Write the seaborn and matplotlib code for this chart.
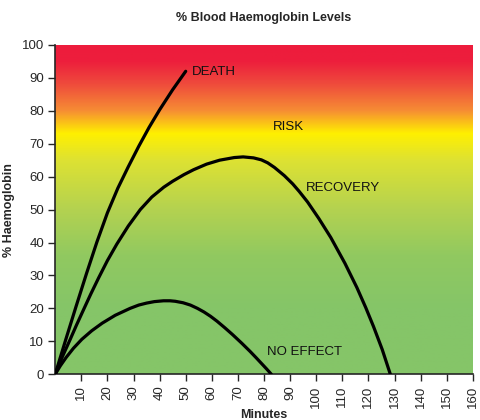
import numpy as np
import pandas as pd
import matplotlib
matplotlib.use("Agg")
import matplotlib.pyplot as plt
import seaborn as sns
from matplotlib.colors import LinearSegmentedColormap

# curves
death_x = [0, 4, 8, 12, 16, 20, 24, 28, 32, 36, 40, 45, 50]
death_y = [0, 10.4, 20.6, 30.6, 40.2, 49, 56.5, 63, 69.2, 75, 80.3, 86.4, 92]

recovery_x = [0, 2.8, 5.7, 8.2, 10.8, 13.6, 16.6, 20, 23.6, 28, 32.6, 37, 41.6,
              45, 49.3, 53, 58, 63, 68.6, 72, 76, 79, 81.4, 84, 87.8, 91, 93.5,
              96.7, 101, 105.6, 111, 115.6, 119, 122, 125.3, 128.4]
recovery_y = [0, 5.4, 10.5, 15, 19.5, 24.3, 29.2, 34.5, 39.5, 45, 50, 53.8, 56.8,
              58.6, 60.6, 62.1, 63.8, 65, 65.8, 66, 65.7, 65.1, 64.2, 62.8, 60.3, 57.8, 55.5,
              52.3, 47.3, 41.5, 33.7, 26.3, 20.2, 14.4, 7.5, 0]

noeffect_x = [0, 2, 4.2, 7, 10.2, 14, 18, 23, 28.7, 32, 35, 38, 41.5, 44, 46,
              49, 51.8, 54.5, 57, 59.5, 62, 65, 68, 71.5, 74.7, 77, 79, 81, 82.8]
noeffect_y = [0, 2.6, 5.1, 7.9, 10.6, 13.2, 15.5, 17.9, 20, 21, 21.6, 22.05, 22.3, 22.3, 22.15,
              21.7, 21, 20, 18.9, 17.6, 16.1, 14.1, 12, 9.4, 6.9, 5, 3.3, 1.6, 0]

labels = ["DEATH", "RISK", "RECOVERY", "NO EFFECT"]
label_x = [52.5, 83.5, 96, 81]
label_y = [91.8, 75, 56.5, 6.7]

xticks = list(range(10, 161, 10))
yticks = list(range(0, 101, 10))

sns.set_style("ticks")
plt.rcParams['font.family'] = ['Liberation Sans Narrow', 'Liberation Sans', 'DejaVu Sans']

fig, ax = plt.subplots(figsize=(4.8, 4.2), dpi=100)
fig.subplots_adjust(left=0.115, right=0.985, top=0.893, bottom=0.109)

# background gradient green -> yellow -> red
stops = [(0.0, (133/255, 197/255, 104/255)),
         (0.20, (133/255, 197/255, 104/255)),
         (0.36, (145/255, 201/255, 96/255)),
         (0.50, (180/255, 210/255, 80/255)),
         (0.65, (222/255, 226/255, 50/255)),
         (0.73, (255/255, 240/255, 0/255)),
         (0.80, (246/255, 140/255, 52/255)),
         (0.88, (239/255, 75/255, 60/255)),
         (0.95, (237/255, 30/255, 60/255)),
         (1.0, (237/255, 28/255, 60/255))]
cmap = LinearSegmentedColormap.from_list("hb", stops)
grad = np.linspace(0, 1, 256).reshape(-1, 1)
ax.imshow(grad, cmap=cmap, aspect="auto", origin="lower",
          extent=[0, 160, 0, 100], zorder=0)

for xs, ys in [(death_x, death_y), (recovery_x, recovery_y), (noeffect_x, noeffect_y)]:
    df = pd.DataFrame({"x": xs, "y": ys})
    sns.lineplot(data=df, x="x", y="y", ax=ax, color="black", linewidth=2.3,
                 zorder=3, sort=False)

for t, x, y in zip(labels, label_x, label_y):
    ax.text(x, y, t, fontsize=9.5, color="#111111", va="center", ha="left")

ax.set_xlim(0, 160)
ax.set_ylim(0, 100)
ax.set_xticks(xticks)
ax.set_yticks(yticks)
ax.tick_params(axis="x", labelrotation=90, labelsize=9.5, length=5, width=1, pad=3)
ax.tick_params(axis="y", labelsize=9.5, length=5, width=1, pad=3)
sns.despine(ax=ax)
ax.spines["left"].set_linewidth(1.2)
ax.spines["bottom"].set_linewidth(1.2)

ax.set_title("% Blood Haemoglobin Levels", fontsize=9, fontweight="bold", pad=17)
ax.set_xlabel("Minutes", fontsize=9, fontweight="bold", labelpad=1)
ax.set_ylabel("% Haemoglobin", fontsize=9, fontweight="bold", labelpad=5)

plt.savefig("out.png")
